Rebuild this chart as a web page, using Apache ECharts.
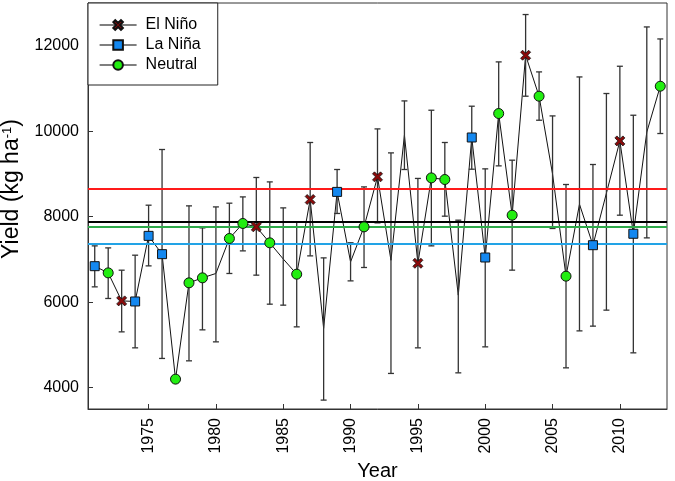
<!DOCTYPE html>
<html>
<head>
    <meta charset="UTF-8">
    <title>Yield by ENSO phase</title>
    <script type="text/javascript" src="https://cdn.jsdelivr.net/npm/echarts@6.0.0/dist/echarts.min.js"></script>
    <style>
    html, body {
        margin: 0;
        padding: 0;
        width: 100%;
        height: 100%;
        background: #fff;
    }
    #chart {
        width: 675px;
        height: 481px;
    }
    </style>
</head>
<body>
    <div id="chart"></div>
    <script>
    // data
    var years = [1971, 1972, 1973, 1974, 1975, 1976, 1977, 1978, 1979, 1980,
        1981, 1982, 1983, 1984, 1985, 1986, 1987, 1988, 1989, 1990,
        1991, 1992, 1993, 1994, 1995, 1996, 1997, 1998, 1999, 2000,
        2001, 2002, 2003, 2004, 2005, 2006, 2007, 2008, 2009, 2010,
        2011, 2012, 2013];
    var yieldVals = [6842, 6685, 6030, 6016, 7551, 7123, 4199, 6452, 6569, 6671,
        7490, 7841, 7762, 7388, 7010, 6655, 8402, 5387, 8580, 6943,
        7762, 8932, 6980, 9906, 6910, 8908, 8870, 6164, 9853, 7045,
        10414, 8035, 11778, 10819, 9000, 6608, 8292, 7333, 8550, 9773,
        7600, 9980, 11053];
    var errUpper = [7317, 7270, 6748, 7099, 8269, 9572, null, 8253, 7738, 8229,
        8316, 8463, 8917, 8814, 8206, 7880, 9736, 7036, 9104, 7390,
        8697, 10054, 9493, 10709, 8895, 10491, 9736, 7918, 10585, 9119,
        11622, 9322, 12730, 11388, 10358, 8753, 11270, 9221, 10882, 11520,
        10374, 12440, 12159];
    var errLower = [6358, 6086, 5305, 4931, 6849, 4683, null, 4627, 5352, 5071,
        6671, 7200, 6632, 5953, 5930, 5422, 7083, 3708, 8075, 6498,
        6811, 7855, 4332, 9104, 4931, 7317, 8012, 4346, 9111, 4954,
        9189, 6749, 10819, 10257, 7724, 4463, 5328, 5439, 5813, 8035,
        4814, 7504, 9946];
    // E = El Nino, L = La Nina, N = neutral, '' = no marker
    var phase = ['L', 'N', 'E', 'L', 'L', 'L', 'N', 'N', 'N', '',
        'N', 'N', 'E', 'N', '', 'N', 'E', '', 'L', '',
        'N', 'E', '', '', 'E', 'N', 'N', '', 'L', 'L',
        'N', 'N', 'E', 'N', '', 'N', '', 'L', '', 'E',
        'L', '', 'N'];
    // mean lines: El Nino, overall, neutral, La Nina
    var meanVals = [8651, 7878, 7762, 7373];
    var meanColors = ['#ff1a1a', '#000000', '#2eaa4a', '#22a3e6'];
    var xTicks = [1975, 1980, 1985, 1990, 1995, 2000, 2005, 2010];
    var yTicks = [4000, 6000, 8000, 10000, 12000];

    var FONT = '"Liberation Sans", Arial, sans-serif';
    var crossPath = 'path://M0,2 L2,0 L5,3 L8,0 L10,2 L7,5 L10,8 L8,10 L5,7 L2,10 L0,8 L3,5 Z';

    function phasePoints(p) {
        var out = [];
        for (var i = 0; i < years.length; i++) {
            if (phase[i] === p) out.push([years[i], yieldVals[i]]);
        }
        return out;
    }

    function buildChart() {
        var chart = echarts.init(document.getElementById('chart'), null, { renderer: 'canvas' });

        var lineData = [];
        var errData = [];
        for (var i = 0; i < years.length; i++) {
            lineData.push([years[i], yieldVals[i]]);
            if (errUpper[i] != null) errData.push([years[i], errLower[i], errUpper[i]]);
        }

        var markData = [];
        for (var k = 0; k < meanVals.length; k++) {
            markData.push({ yAxis: meanVals[k], lineStyle: { color: meanColors[k], width: 2, type: 'solid' } });
        }

        var option = {
            animation: false,
            backgroundColor: '#fff',
            textStyle: { fontFamily: FONT },
            grid: {
                left: 88,
                right: 8,
                top: 3,
                bottom: 72,
                outerBoundsMode: 'none',
                containLabel: false,
                show: true,
                borderColor: '#333',
                borderWidth: 1
            },
            legend: {
                orient: 'vertical',
                left: 88,
                top: 3,
                padding: [14, 17, 12, 11],
                itemGap: 4,
                itemWidth: 37,
                itemHeight: 12,
                borderColor: '#222',
                borderWidth: 1,
                backgroundColor: '#fff',
                textStyle: { fontFamily: FONT, fontSize: 16, color: '#000', padding: [0, 0, 0, 4] },
                lineStyle: { color: '#000', width: 1.2, opacity: 1 },
                data: ['El Niño', 'La Niña', 'Neutral']
            },
            xAxis: {
                type: 'value',
                min: 1970.5,
                max: 2013.5,
                name: 'Year',
                nameLocation: 'middle',
                nameGap: 49,
                nameTextStyle: { fontFamily: FONT, fontSize: 20, color: '#000' },
                axisLine: { lineStyle: { color: '#333', width: 1 } },
                axisTick: { inside: true, length: 5, lineStyle: { color: '#333' }, customValues: xTicks },
                axisLabel: {
                    rotate: 90, margin: 9, fontSize: 16, color: '#000', fontFamily: FONT,
                    customValues: xTicks,
                    formatter: function(v) { return String(v); }
                },
                splitLine: { show: false }
            },
            yAxis: {
                type: 'value',
                min: 3500,
                max: 13000,
                name: 'Yield (kg ha{sup|-1})',
                nameLocation: 'middle',
                nameGap: 56,
                nameRotate: 90,
                nameTextStyle: {
                    fontFamily: FONT, fontSize: 23, color: '#000',
                    padding: [0, 0, 0, 34],
                    rich: { sup: { fontFamily: FONT, fontSize: 13, color: '#000', verticalAlign: 'top', padding: [0, 0, 10, 0] } }
                },
                axisLine: { show: true, lineStyle: { color: '#333', width: 1 } },
                axisTick: { show: true, inside: true, length: 5, lineStyle: { color: '#333' }, customValues: yTicks },
                axisLabel: {
                    margin: 9, fontSize: 16, color: '#000', fontFamily: FONT,
                    customValues: yTicks,
                    formatter: function(v) { return String(v); }
                },
                splitLine: { show: false }
            },
            series: [
                {
                    name: 'yield',
                    type: 'line',
                    data: lineData,
                    symbol: 'none',
                    lineStyle: { color: '#111', width: 1 },
                    z: 2,
                    markLine: {
                        silent: true,
                        symbol: 'none',
                        label: { show: false },
                        data: markData
                    }
                },
                {
                    name: 'error',
                    type: 'custom',
                    data: errData,
                    z: 3,
                    encode: { x: 0, y: [1, 2] },
                    renderItem: function(params, api) {
                        var x = api.value(0);
                        var top = api.coord([x, api.value(2)]);
                        var bot = api.coord([x, api.value(1)]);
                        var w = 3;
                        var st = { stroke: '#333', lineWidth: 1.3 };
                        return {
                            type: 'group',
                            children: [
                                { type: 'line', shape: { x1: top[0], y1: top[1], x2: bot[0], y2: bot[1] }, style: st },
                                { type: 'line', shape: { x1: top[0] - w, y1: top[1], x2: top[0] + w, y2: top[1] }, style: st },
                                { type: 'line', shape: { x1: bot[0] - w, y1: bot[1], x2: bot[0] + w, y2: bot[1] }, style: st }
                            ]
                        };
                    }
                },
                {
                    name: 'El Niño',
                    type: 'line',
                    data: phasePoints('E'),
                    symbol: crossPath,
                    symbolSize: 10,
                    lineStyle: { opacity: 0 },
                    itemStyle: { color: '#8b0a0a', borderColor: '#111', borderWidth: 0.8 },
                    z: 5
                },
                {
                    name: 'La Niña',
                    type: 'line',
                    data: phasePoints('L'),
                    symbol: 'rect',
                    symbolSize: 9,
                    lineStyle: { opacity: 0 },
                    itemStyle: { color: '#1488f0', borderColor: '#111', borderWidth: 1 },
                    z: 5
                },
                {
                    name: 'Neutral',
                    type: 'line',
                    data: phasePoints('N'),
                    symbol: 'circle',
                    symbolSize: 10,
                    lineStyle: { opacity: 0 },
                    itemStyle: { color: '#22ee11', borderColor: '#111', borderWidth: 1 },
                    z: 5
                }
            ]
        };

        chart.setOption(option);
    }

    buildChart();
    </script>
</body>
</html>
